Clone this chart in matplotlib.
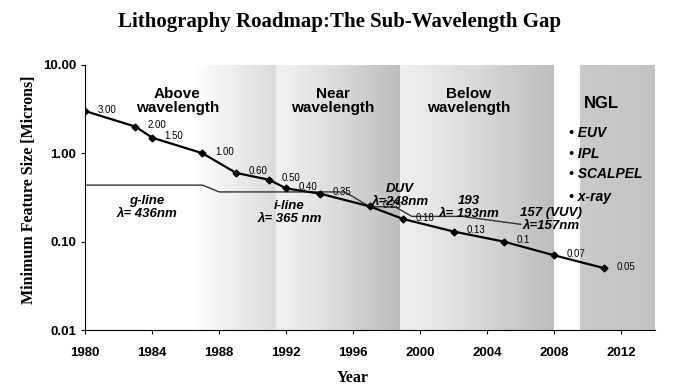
import numpy as np
import matplotlib.pyplot as plt

# feature size roadmap (microns)
years = [1980, 1983, 1984, 1987, 1989, 1991, 1992, 1994, 1997, 1999, 2002, 2005, 2008, 2011]
sizes = [3.00, 2.00, 1.50, 1.00, 0.60, 0.50, 0.40, 0.35, 0.25, 0.18, 0.13, 0.10, 0.07, 0.05]
size_labels = ['3.00', '2.00', '1.50', '1.00', '0.60', '0.50', '0.40', '0.35', '0.25',
               '0.18', '0.13', '0.1', '0.07', '0.05']

# exposure wavelength (microns)
wl_years = [1980, 1987, 1988, 1995.5, 1997, 1998.5, 1999.5, 2002.5, 2006]
wl_vals = [0.436, 0.436, 0.365, 0.365, 0.248, 0.248, 0.193, 0.193, 0.157]

# shaded regions: (start, end, grey at start, grey at end)
bands = [(1980, 1991.4, 1.0, 0.86), (1991.4, 1998.8, 0.94, 0.74),
         (1998.8, 2008, 0.93, 0.74), (2008, 2014, 1.0, 0.76)]

fig = plt.figure(figsize=(6.98, 3.86), dpi=100)
ax = fig.add_axes([0.122, 0.145, 0.816, 0.687])
ax.set_yscale('log')
ax.set_xlim(1980, 2014)
ax.set_ylim(0.01, 10)

for x0, x1, g0, g1 in bands:
    xs = np.linspace(x0, x1, 60)
    t = np.linspace(0, 1, 59)
    if x0 == 1980:
        g = np.where(t < 0.55, 1.0, 1.0 - (1.0 - g1) * (t - 0.55) / 0.45)
    elif x0 == 2008:
        g = np.where(t < 0.25, 1.0, g1 + 0.04 * (1 - t))
    else:
        g = g0 + (g1 - g0) * t ** 1.2
    c = np.tile(g, (1, 1))
    ax.pcolormesh(xs, [0.01, 10], c, cmap='gray', vmin=0, vmax=1, shading='flat', zorder=0)

ax.plot(wl_years, wl_vals, color='#333333', lw=1.0, zorder=2)
ax.plot(years, sizes, color='black', lw=1.6, marker='D', ms=3.5, zorder=3)

for x, y, s in zip(years, sizes, size_labels):
    ax.annotate(s, (x, y), xytext=(9, 1), textcoords='offset points',
                ha='left', va='center', fontsize=7, family='Liberation Sans', zorder=4)

big = dict(fontsize=11, fontweight='bold', family='Liberation Sans', ha='center', va='center',
           linespacing=1.05, zorder=5)
ax.text(1985.5, 3.9, 'Above\nwavelength', **big)
ax.text(1994.8, 3.9, 'Near\nwavelength', **big)
ax.text(2002.9, 3.9, 'Below\nwavelength', **big)
ax.text(2010.8, 3.7, 'NGL', fontsize=12, fontweight='bold', family='Liberation Sans',
        ha='center', va='center', zorder=5)

for y, s in zip([1.69, 0.99, 0.575, 0.32], ['EUV', 'IPL', 'SCALPEL', 'x-ray']):
    ax.text(2008.9, y, '\u2022 ' + s, fontsize=10, fontweight='bold', style='italic',
            family='Liberation Sans', ha='left', va='center', zorder=5)

it = dict(fontsize=9.5, fontweight='bold', style='italic', family='Liberation Sans',
          ha='center', va='center', linespacing=1.1, zorder=5)
ax.text(1983.7, 0.242, 'g-line\n\u03bb= 436nm', **it)
ax.text(1992.2, 0.212, 'i-line\n\u03bb= 365 nm', **it)
ax.text(1998.8, 0.33, 'DUV\n\u03bb=248nm', **it)
ax.text(2002.9, 0.242, '193\n\u03bb= 193nm', **it)
ax.text(2007.8, 0.177, '157 (VUV)\n\u03bb=157nm', **it)

ax.set_xticks(range(1980, 2013, 4))
ax.set_yticks([0.01, 0.1, 1, 10])
ax.set_yticklabels(['0.01', '0.10', '1.00', '10.00'])
ax.minorticks_off()
for lab in ax.get_xticklabels() + ax.get_yticklabels():
    lab.set_family('Liberation Sans')
    lab.set_fontweight('bold')
    lab.set_fontsize(9.5)
ax.tick_params(length=3, width=0.8)
ax.xaxis.set_tick_params(pad=9)
for side in ['top', 'right']:
    ax.spines[side].set_visible(False)

ax.set_xlabel('Year', family='Liberation Serif', fontweight='bold', fontsize=11.5)
ax.xaxis.set_label_coords(0.47, -0.15)
ax.set_ylabel('Minimum Feature Size [Microns]', family='Liberation Serif', fontweight='bold',
              fontsize=11.5)
ax.yaxis.set_label_coords(-0.085, 0.53)
fig.suptitle('Lithography Roadmap:The Sub-Wavelength Gap', family='Liberation Serif',
             fontweight='bold', fontsize=15, x=0.487, y=0.97)

fig.savefig('out.png', dpi=100)
